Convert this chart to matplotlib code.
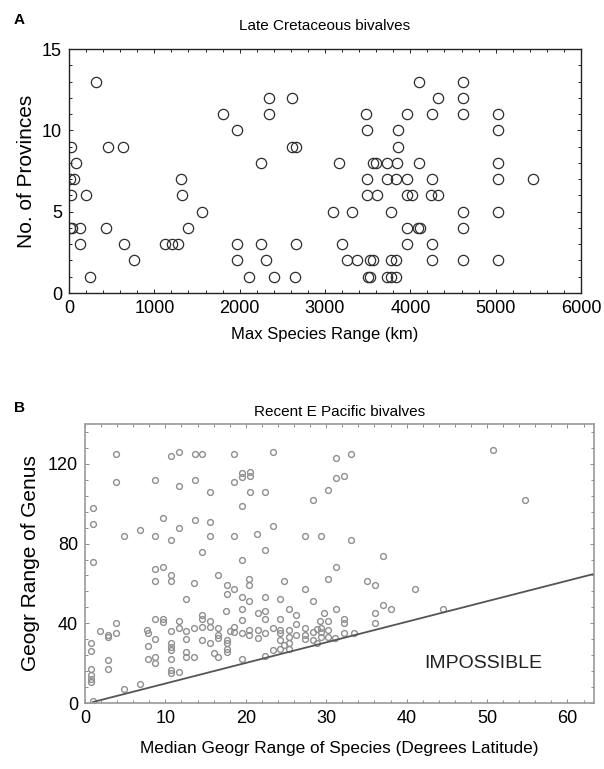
import numpy as np
import matplotlib
matplotlib.use("Agg")
from matplotlib import pyplot as plt
from matplotlib.ticker import MultipleLocator

plt.rcParams['font.family'] = ['Liberation Sans', 'DejaVu Sans']

# Panel A: Late Cretaceous bivalves
cret_range_km = [313, 4103, 4623,
                 2348, 2611, 4330, 4623,
                 1801, 2348, 3478, 3959, 4252, 4623, 5026,
                 1966, 3498, 3861, 5026,
                 20, 457, 637, 2611, 2657, 3861,
                 82, 2247, 3162, 3568, 3599, 3725, 3849, 4103, 5026,
                 12, 59, 1309, 3490, 3725, 3834, 3959, 4252, 5026, 5443,
                 20, 199, 1321, 3498, 3614, 3959, 4025, 4244, 4322,
                 1555, 3091, 3314, 3775, 4623, 5026,
                 12, 31, 129, 434, 1399, 3959, 4091, 4111, 4623,
                 129, 645, 1125, 1204, 1282, 1966, 2247, 2657, 3200, 3959, 4252,
                 762, 1966, 2309, 3255, 3373, 3529, 3560, 3775, 3834, 4252, 4623, 5026,
                 242, 2110, 2407, 2650, 3502, 3529, 3732, 3775, 3834]
cret_provinces = [13] * 3 + [12] * 4 + [11] * 7 + [10] * 4 + [9] * 6 + [8] * 9 \
    + [7] * 10 + [6] * 9 + [5] * 6 + [4] * 9 + [3] * 11 + [2] * 12 + [1] * 9

# Panel B: Recent E Pacific bivalves (degrees latitude)
species_range = [3.85, 3.85, 1, 1, 1, 4.9, 6.8, 8.7, 8.7, 9.7, 10.7, 10.7, 11.7, 11.7,
                 11.7, 8.7, 9.7, 13.7, 14.6, 13.7, 13.7, 15.6, 15.6, 15.6, 14.6, 18.5,
                 18.5, 18.5, 19.5, 19.5, 19.5, 19.5, 20.5, 20.5, 20.5, 21.4, 23.4, 22.4,
                 31.2, 33.1, 31.2, 32.2, 30.2, 28.3, 23.4, 22.4, 27.3, 29.3, 33.1, 37.1,
                 31.2, 50.8, 54.7,
                 8.7, 10.7, 10.7, 13.6, 16.6, 17.6, 18.5, 17.6, 19.5, 20.4, 20.4, 20.4,
                 12.6, 17.5, 19.5, 8.7, 9.7, 9.7, 11.7, 14.5, 14.5, 15.5, 3.8, 1.9, 2.9,
                 3.8, 2.8, 0.8, 0.8, 0.8, 0.8, 0.8, 0.8, 2.9, 2.9, 4.9, 6.8, 1.0, 7.7,
                 7.8, 8.7, 7.8, 7.8, 8.7, 8.7, 10.7, 10.7, 10.7, 10.7, 10.7, 10.7, 10.7,
                 11.7, 11.7, 12.6, 12.6, 12.6, 12.6, 13.6, 13.6, 14.6, 14.6, 15.5, 15.5,
                 16.1, 16.6, 16.6, 16.6, 16.6, 17.6, 17.6, 17.6, 17.6, 18.5, 18.0, 18.5,
                 19.5, 19.5, 19.5, 20.4, 20.4,
                 24.8, 30.2, 35.1, 36.1, 41.0, 27.3, 22.4, 24.3, 28.3, 25.4, 31.2, 37.1,
                 38.1, 36.1, 21.5, 22.4, 22.4, 24.3, 26.3, 26.3, 29.7, 29.2, 30.2, 32.2,
                 32.2, 36.1, 23.4, 24.3, 25.4, 27.3, 28.8, 29.4, 30.2, 21.5, 21.5, 22.4,
                 24.3, 24.3, 25.4, 25.4, 25.4, 26.3, 27.3, 27.3, 28.4, 28.4, 28.8, 29.3,
                 29.3, 30.2, 31.1, 32.2, 33.5, 23.4, 24.3, 24.8, 22.4, 44.5]
genus_range = [125, 111, 98, 90, 71, 84, 87, 84, 112, 93, 82, 124, 126, 109,
               88, 67, 68, 125, 125, 112, 92, 91, 106, 84, 76, 125,
               111, 84, 99, 72, 115.5, 113.5, 116, 114, 106, 85, 126, 106,
               123, 125, 113, 114, 107, 102, 89, 77, 84, 84, 82, 74,
               68, 127, 102,
               61, 64, 61, 60, 64, 59, 57, 54.5, 53, 62, 59, 51,
               52, 46, 47, 42, 42, 40.5, 41, 44, 42, 41, 40, 36, 33,
               35, 34, 30, 26, 17, 14, 12, 10.5, 21.5, 17, 7, 9.5, 1, 36.5,
               35, 32, 28.5, 22, 23, 20, 36, 30, 28, 26.5, 22, 16.4, 15,
               15.6, 37.4, 36, 32, 25.6, 23, 23, 37.4, 38, 31.5, 30, 38,
               25, 23, 37.4, 34, 32.4, 31.5, 30, 27.3, 25.6, 38, 36, 35.7,
               35, 41.6, 22, 36.5, 34,
               61, 62, 61, 59, 57, 57, 53, 52, 51, 47, 47, 49,
               47, 45, 45, 46, 42, 42, 44, 39.5, 45, 41, 41, 42,
               40, 40, 37.4, 36.5, 36.5, 37.4, 37, 37.4, 36.5, 36.5, 32.4, 35,
               35, 31.5, 33, 30, 27, 34, 34, 32, 35.7, 31.5, 30, 35.7,
               33, 33, 32.4, 35, 35, 26.5, 27.3, 29, 23.5, 47]
boundary_x = [1, 64]
boundary_y = [0.5, 65.5]

fig = plt.figure(figsize=(6.04, 7.69), dpi=100)

# ---- panel A
axA = fig.add_axes([69 / 604, 1 - 293 / 769, 512 / 604, 244 / 769])
axA.plot(cret_range_km, cret_provinces, linestyle='none', marker='o',
         markersize=7.4, markerfacecolor='none', markeredgecolor='#2e2e2e',
         markeredgewidth=0.9)
axA.set_xlim(0, 6000)
axA.set_ylim(0, 15)
axA.xaxis.set_major_locator(MultipleLocator(1000))
axA.xaxis.set_minor_locator(MultipleLocator(200))
axA.yaxis.set_major_locator(MultipleLocator(5))
axA.yaxis.set_minor_locator(MultipleLocator(1))
axA.tick_params(which='both', direction='in', top=True, right=True,
                labelsize=13, width=0.6, pad=5)
axA.tick_params(which='major', length=3)
axA.tick_params(which='minor', length=2)
for s in axA.spines.values():
    s.set_linewidth(1.0)
    s.set_color('#222222')
axA.set_xlabel('Max Species Range (km)', fontsize=12, labelpad=7)
axA.set_ylabel('No. of Provinces', fontsize=15, labelpad=4)
axA.set_title('Late Cretaceous bivalves', fontsize=11, pad=14)
fig.text(14 / 604, 1 - 20 / 769, 'A', fontsize=11, fontweight='bold', va='center')

# ---- panel B
axB = fig.add_axes([85 / 604, 1 - 703 / 769, 509 / 604, 279 / 769])
axB.plot(species_range, genus_range, linestyle='none', marker='o',
         markersize=4.2, markerfacecolor='none', markeredgecolor='#8f8f8f',
         markeredgewidth=1.0)
axB.plot(boundary_x, boundary_y, color='#555555', linewidth=1.3)
axB.text(49.5, 20, 'IMPOSSIBLE', fontsize=14, ha='center', va='center', color='#222222')
axB.set_xlim(0, 63.3)
axB.set_ylim(0, 140)
axB.xaxis.set_major_locator(MultipleLocator(10))
axB.xaxis.set_minor_locator(MultipleLocator(2))
axB.yaxis.set_major_locator(MultipleLocator(40))
axB.yaxis.set_minor_locator(MultipleLocator(8))
axB.tick_params(which='both', direction='in', top=True, right=True,
                labelsize=13, width=0.6, color='#777777', pad=5)
axB.tick_params(which='major', length=3)
axB.tick_params(which='minor', length=2)
for s in axB.spines.values():
    s.set_linewidth(1.2)
    s.set_color('#9a9a9a')
axB.set_xlabel('Median Geogr Range of Species (Degrees Latitude)', fontsize=12.4, labelpad=10)
axB.set_ylabel('Geogr Range of Genus', fontsize=15, labelpad=6)
axB.set_title('Recent E Pacific bivalves', fontsize=11, pad=6)
fig.text(14 / 604, 1 - 408 / 769, 'B', fontsize=11, fontweight='bold', va='center')

fig.savefig('out.png', dpi=100)
